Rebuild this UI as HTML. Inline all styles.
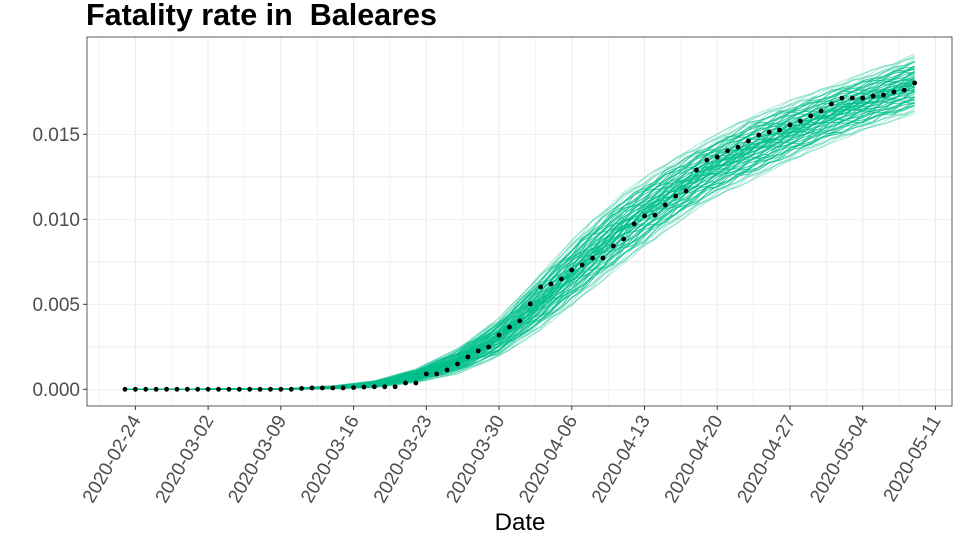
<!DOCTYPE html>
<html><head><meta charset="utf-8"><style>
html,body{margin:0;padding:0;background:#fff;}
svg{display:block;font-family:"Liberation Sans",sans-serif;}
</style></head><body>
<svg id="chart" width="960" height="540">
<text x="86" y="25" font-size="30.5" font-weight="bold" fill="#000" xml:space="preserve">Fatality rate in  Baleares</text>
<text x="520" y="530" font-size="24" text-anchor="middle" fill="#000">Date</text>
</svg>
<script>
const dayOffsets=[0,1,2,3,4,5,6,7,8,9,10,11,12,13,14,15,16,17,18,19,20,21,22,23,24,25,26,27,28,29,30,31,32,33,34,35,36,37,38,39,40,41,42,43,44,45,46,47,48,49,50,51,52,53,54,55,56,57,58,59,60,61,62,63,64,65,66,67,68,69,70,71,72,73,74,75,76];
const observedRate=[0,0,0,0,0,0,0,0,0,0,0,0,0,0,0,0,0,0.00005,0.00008,0.00008,0.00008,0.00008,0.0001,0.00013,0.00015,0.00015,0.00015,0.00037,0.00037,0.0009,0.0009,0.00114,0.00149,0.0019,0.00226,0.00249,0.00319,0.00366,0.00402,0.00502,0.00602,0.00619,0.00649,0.00702,0.00731,0.00772,0.00772,0.00843,0.00884,0.00973,0.0102,0.01025,0.01084,0.01137,0.01166,0.0129,0.01349,0.01366,0.01402,0.01425,0.0146,0.01496,0.01513,0.01525,0.01555,0.01578,0.01608,0.01637,0.01678,0.01713,0.01713,0.01713,0.01725,0.01731,0.01749,0.0176,0.01802];
const bandDays=[0,16,20,24,28,32,36,40,44,48,52,56,60,64,68,72,76];
const bandLow=[0,0,0.00003,0.0001,0.0004,0.0009,0.0019,0.0035,0.0054,0.0074,0.0093,0.0110,0.0122,0.0134,0.0145,0.0154,0.0162];
const bandHigh=[0,0.00005,0.0002,0.0005,0.0012,0.0024,0.0042,0.0068,0.0094,0.0116,0.0133,0.0147,0.0160,0.0170,0.0179,0.0188,0.0197];
const yTicks=[0,0.005,0.01,0.015];
const yTickLabels=["0.000","0.005","0.010","0.015"];
const xTickDays=[1,8,15,22,29,36,43,50,57,64,71,78];
const xTickLabels=["2020-02-24","2020-03-02","2020-03-09","2020-03-16","2020-03-23","2020-03-30","2020-04-06","2020-04-13","2020-04-20","2020-04-27","2020-05-04","2020-05-11"];

const NS="http://www.w3.org/2000/svg";
const svg=document.getElementById('chart');
const L=87,R=952,T=37,B=406;
const xs=d=>125+d*10.39;
const ys=v=>389.3-v/0.005*85;
function mk(tag,attrs,parent){const e=document.createElementNS(NS,tag);for(const k in attrs)e.setAttribute(k,attrs[k]);(parent||svg).appendChild(e);return e;}

const grid=mk('g',{});


svg.insertBefore(grid,svg.firstChild);
for(let i=0;i<8;i++){const v=-0.0025+i*0.0025;const y=ys(v);if(y<T||y>B)continue;
 const l=mk('line',{x1:L,x2:R,y1:y,y2:y,stroke:'#ebebeb','stroke-width':(i%2? 0.6:1.1)},grid);
 }
for(let d=-2.5;d<82;d+=3.5){const x=xs(d);if(x<L||x>R)continue;
 const major=Math.abs(((d-1)/7)-Math.round((d-1)/7))<0.01;
 const l=mk('line',{x1:x,x2:x,y1:T,y2:B,stroke:'#ebebeb','stroke-width':major?1.1:0.6},grid);
 }

function bandAt(arr,d){for(let i=0;i<bandDays.length-1;i++){if(d<=bandDays[i+1]){const t=(d-bandDays[i])/(bandDays[i+1]-bandDays[i]);return arr[i]+t*(arr[i+1]-arr[i]);}}return arr[arr.length-1];}
const sims=mk('g',{});


const fracs=[];for(let i=0;i<=60;i++){const u=i/60;fracs.push(0.5+0.5*Math.sign(u-0.5)*Math.pow(Math.abs(2*u-1),1.4));}
fracs.forEach((f,k)=>{let pts=[];for(const d of dayOffsets){const lo=bandAt(bandLow,d),hi=bandAt(bandHigh,d);const w=0.06*Math.sin(d*0.9+k*1.7)+0.03*Math.sin(d*2.3+k*0.5);let ff=Math.min(1,Math.max(0,f+w*(1-Math.abs(f-0.5))));pts.push(xs(d).toFixed(1)+','+ys(lo+ff*(hi-lo)).toFixed(1));}
 const core=f>0.12&&f<0.88;
 const p=mk('polyline',{points:pts.join(' '),fill:'none',stroke:'#00bf8c','stroke-width':1.1,'stroke-opacity':core?0.75:0.3},sims);
 });

const pts=mk('g',{});


dayOffsets.forEach((d,i)=>{const c=mk('circle',{cx:xs(d),cy:ys(observedRate[i]),r:2.4,fill:'#000'},pts);
 });

const frame=mk('rect',{x:L,y:T,width:R-L,height:B-T,fill:'none',stroke:'#333','stroke-width':0.8});


yTicks.forEach((v,i)=>{const y=ys(v);
 const tk=mk('line',{x1:L-4,x2:L,y1:y,y2:y,stroke:'#333'});
 
 const t=mk('text',{x:L-7,y:y+6.5,'text-anchor':'end','font-size':19,fill:'#4d4d4d'});t.textContent=yTickLabels[i];
 });
xTickDays.forEach((d,i)=>{const x=xs(d);
 const tk=mk('line',{x1:x,x2:x,y1:B,y2:B+4,stroke:'#333'});
 
 const t=mk('text',{x:x+6,y:B+14,'text-anchor':'end','font-size':19,fill:'#4d4d4d',transform:'rotate(-60 '+(x+6)+' '+(B+14)+')'});t.textContent=xTickLabels[i];
 });
</script>
</body></html>
